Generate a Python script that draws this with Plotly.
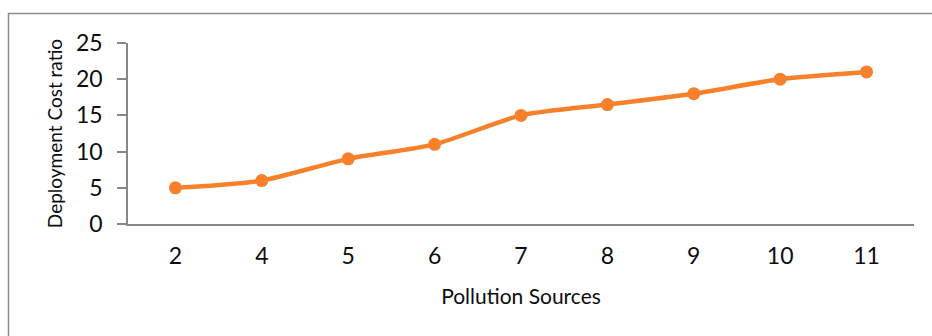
import plotly.graph_objects as go

# Number of pollution sources and the resulting deployment cost ratio
sources = ["2", "4", "5", "6", "7", "8", "9", "10", "11"]
cost_ratio = [5, 6, 9, 11, 15, 16.5, 18, 20, 21]
y_ticks = [0, 5, 10, 15, 20, 25]

ORANGE = "#F7812A"
AXIS_GREY = "#878787"
TEXT = "#0d0d0d"
FONT = "Lato"

fig = go.Figure(
    go.Scatter(
        x=sources,
        y=cost_ratio,
        mode="lines+markers",
        line=dict(color=ORANGE, width=4.5, shape="spline", smoothing=0.7),
        marker=dict(color=ORANGE, size=13),
        cliponaxis=False,
        hoverinfo="x+y",
    )
)

fig.update_layout(
    width=932,
    height=336,
    margin=dict(l=128, r=18, t=43, b=112),
    paper_bgcolor="white",
    plot_bgcolor="white",
    showlegend=False,
    font=dict(family=FONT, color=TEXT),
    xaxis=dict(
        type="category",
        showgrid=False,
        zeroline=False,
        showline=True,
        linecolor=AXIS_GREY,
        linewidth=1.5,
        ticks="",
        tickfont=dict(size=23, family=FONT, color=TEXT),
        ticklabelstandoff=11,
        title=dict(text="Pollution Sources", font=dict(size=21, family=FONT, color=TEXT), standoff=21),
    ),
    yaxis=dict(
        range=[0, 25],
        tickvals=y_ticks,
        showgrid=False,
        zeroline=False,
        showline=True,
        linecolor=AXIS_GREY,
        linewidth=1.5,
        ticks="outside",
        ticklen=9,
        tickwidth=1.5,
        tickcolor=AXIS_GREY,
        tickfont=dict(size=23, family=FONT, color=TEXT),
        ticklabelstandoff=10,
        title=dict(text="Deployment Cost ratio", font=dict(size=19, family=FONT, color=TEXT), standoff=8),
    ),
    shapes=[
        # chart-area frame, running past the right and bottom edges
        dict(
            type="rect",
            xref="paper",
            yref="paper",
            x0=(8.5 - 128) / 786,
            x1=(945 - 128) / 786,
            y0=(224 - 350) / 181,
            y1=(224 - 13.5) / 181,
            line=dict(color="#8C8C8C", width=1.5),
            fillcolor="rgba(0,0,0,0)",
            layer="below",
        )
    ],
)

fig.write_html("out.html")
